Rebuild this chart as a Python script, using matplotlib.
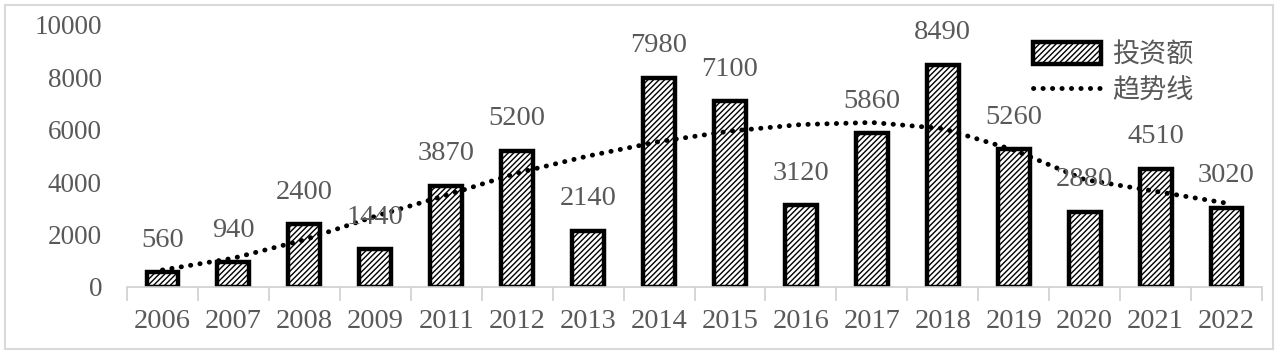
import matplotlib.pyplot as plt
from matplotlib.patches import Rectangle

years = ["2006", "2007", "2008", "2009", "2011", "2012", "2013", "2014",
         "2015", "2016", "2017", "2018", "2019", "2020", "2021", "2022"]
investment = [560, 940, 2400, 1440, 3870, 5200, 2140, 7980,
              7100, 3120, 5860, 8490, 5260, 2880, 4510, 3020]
# trend line values at each category
trend = [650, 1100, 1800, 2700, 3500, 4350, 5000, 5550,
         5950, 6200, 6280, 6050, 5230, 4100, 3650, 3200]

TEXT = "#595959"
FONT = ["Liberation Serif", "Noto Sans CJK SC"]
plt.rcParams["font.family"] = FONT
plt.rcParams["hatch.linewidth"] = 1.0

fig = plt.figure(figsize=(12.8, 3.54), dpi=100, facecolor="white")
ax = fig.add_axes([127 / 1280, 1 - 287 / 354, 1135 / 1280, 262 / 354])

x = range(len(years))
bars = ax.bar(x, investment, width=0.45, facecolor="white", edgecolor="black",
              linewidth=3.2, hatch="//////", label="投资额", zorder=2)
ax.plot(x, trend, color="black", linestyle=(0, (0.05, 1.9)), linewidth=3.5,
        dash_capstyle="round", label="趋势线", zorder=3)

for xi, v in zip(x, investment):
    ax.annotate(str(v), (xi, v), xytext=(0, 14), textcoords="offset points",
                ha="center", va="bottom", fontsize=20.5, color=TEXT)

ax.set_xlim(-0.5, len(years) - 0.5)
ax.set_ylim(0, 10000)
ax.set_yticks(range(0, 10001, 2000))
ax.set_xticks(list(x))
ax.set_xticklabels(years)
ax.set_xticks([i + 0.5 for i in range(-1, len(years))], minor=True)
ax.tick_params(axis="x", which="major", length=0, pad=16, labelsize=20.5, labelcolor=TEXT)
ax.tick_params(axis="x", which="minor", length=10, color="#d0d0d0", width=1.2)
ax.tick_params(axis="y", length=0, pad=18, labelsize=19.5, labelcolor=TEXT)
for side in ["top", "right", "left"]:
    ax.spines[side].set_visible(False)
ax.spines["bottom"].set_color("#d0d0d0")
ax.spines["bottom"].set_linewidth(1.2)

handles, labels = ax.get_legend_handles_labels()
order = [labels.index("投资额"), labels.index("趋势线")]
leg = ax.legend([handles[i] for i in order], [labels[i] for i in order],
                loc="upper right", bbox_to_anchor=(0.956, 1.008), frameon=False,
                fontsize=19.5, handlelength=2.5, handleheight=0.9,
                labelspacing=0.36, handletextpad=0.4, labelcolor=TEXT,
                borderpad=0.2)

fig.patches.append(Rectangle((5 / 1280, 5 / 354), 1268 / 1280, 344 / 354,
                             transform=fig.transFigure, fill=False,
                             edgecolor="#d9d9d9", linewidth=1.5))

fig.savefig("out.png", dpi=100, facecolor="white")
